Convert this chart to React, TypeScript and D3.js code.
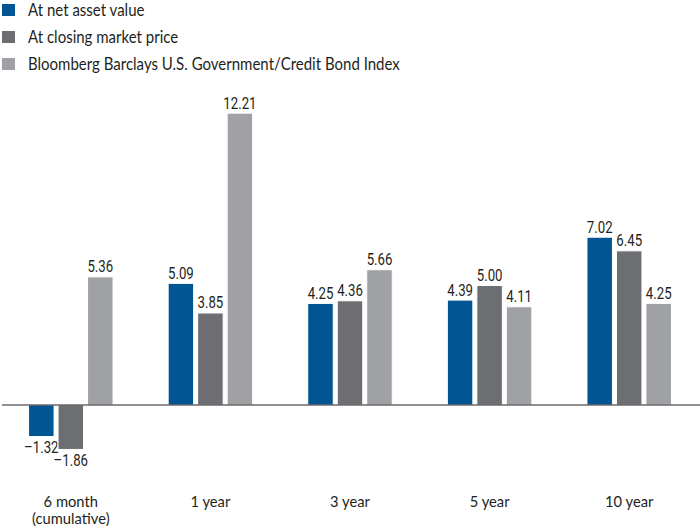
import React from "react";
import * as d3 from "d3";

const categories = ["6 month|(cumulative)", "1 year", "3 year", "5 year", "10 year"];
const seriesNames = [
  "At net asset value",
  "At closing market price",
  "Bloomberg Barclays U.S. Government/Credit Bond Index",
];
const navValues = [-1.32, 5.09, 4.25, 4.39, 7.02];
const marketValues = [-1.86, 3.85, 4.36, 5.0, 6.45];
const indexValues = [5.36, 12.21, 5.66, 4.11, 4.25];
const colors = ["#005592", "#6d6e72", "#a0a1a5"];

const W = 700;
const H = 529;

export default function App() {
  const series = [navValues, marketValues, indexValues];
  const x = d3.scaleBand<string>().domain(categories).range([1, 699]).padding(0);
  const inner = d3
    .scaleBand<string>()
    .domain(seriesNames)
    .range([-42.25, 42.25])
    .paddingInner(0.1356)
    .paddingOuter(0);
  const y = d3.scaleLinear().domain([-2, 13]).range([452.8, 94.3]);
  const fmt = (v: number) => (v < 0 ? "\u2013" + Math.abs(v).toFixed(2) : v.toFixed(2));
  const catFont = "Lato, 'Open Sans', sans-serif";
  const numFont = "Roboto, sans-serif";

  return (
    <svg
      width={W}
      height={H}
      style={{ position: "absolute", left: 0, top: 0, background: "#fff" }}
    >
      {seriesNames.map((name, i) => (
        <g key={name} transform={`translate(0, ${i * 27})`}>
          <rect x={2} y={4} width={13} height={12} fill={colors[i]} />
          <g transform="translate(28, 16) scale(0.91, 1)">
            <text x={0} y={0} fontFamily={catFont} fontSize={16.5} fill="#231f20">
              {name}
            </text>
          </g>
        </g>
      ))}
      {categories.map((cat, ci) => {
        const cx = (x(cat) as number) + x.bandwidth() / 2;
        return (
          <g key={cat}>
            {series.map((vals, si) => {
              const v = vals[ci];
              const bx = cx + (inner(seriesNames[si]) as number);
              const bw = inner.bandwidth();
              const y0 = y(0);
              const yv = y(v);
              const ty = v >= 0 ? yv - 4.5 : yv + 16.6;
              return (
                <g key={si}>
                  <rect
                    x={bx}
                    y={Math.min(y0, yv)}
                    width={bw}
                    height={Math.abs(yv - y0)}
                    fill={colors[si]}
                    stroke="#ffffff"
                    strokeWidth={1}
                  />
                  <g transform={`translate(${bx + bw / 2}, ${ty}) scale(0.8, 1)`}>
                    <text
                      x={0}
                      y={0}
                      textAnchor="middle"
                      fontFamily={numFont}
                      fontSize={16.5}
                      fill="#231f20"
                    >
                      {fmt(v)}
                    </text>
                  </g>
                </g>
              );
            })}
            {cat.split("|").map((line, li) => (
              <g key={li} transform={`translate(${cx}, ${506.5 + li * 17}) scale(0.95, 1)`}>
                <text
                  x={0}
                  y={0}
                  textAnchor="middle"
                  fontFamily={catFont}
                  fontSize={15.5}
                  fill="#231f20"
                >
                  {line}
                </text>
              </g>
            ))}
          </g>
        );
      })}
      <line x1={2} x2={700} y1={y(0)} y2={y(0)} stroke="#231f20" strokeWidth={1.2} />
    </svg>
  );
}
